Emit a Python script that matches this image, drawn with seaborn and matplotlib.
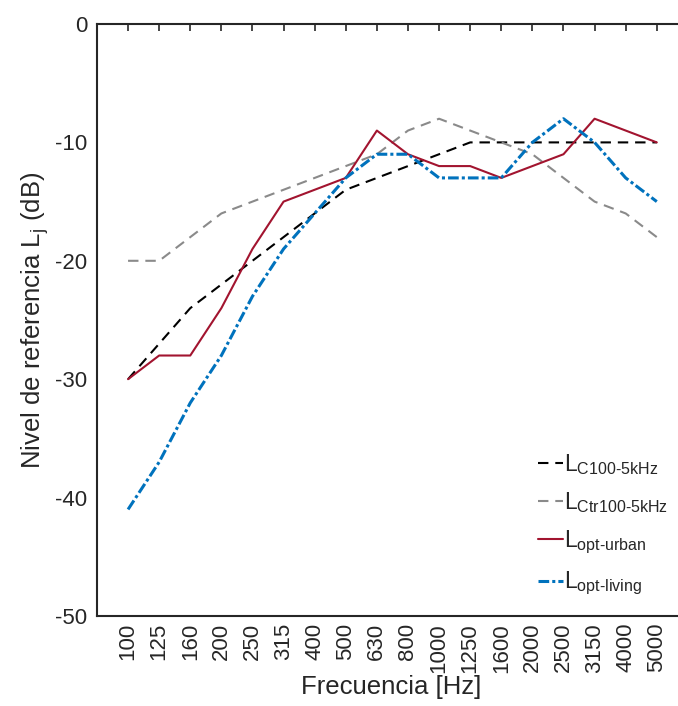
"""Reference spectra Lj vs frequency (ISO 717-1 style)
"""
import matplotlib
matplotlib.use("Agg")
import matplotlib.pyplot as plt
import numpy as np
import pandas as pd
import seaborn as sns


# Data

freqs = ["100", "125", "160", "200", "250", "315", "400", "500", "630", "800",
         "1000", "1250", "1600", "2000", "2500", "3150", "4000", "5000"]
l_c = [-30, -27, -24, -22, -20, -18, -16, -14, -13, -12, -11, -10, -10, -10, -10, -10, -10, -10]
l_ctr = [-20, -20, -18, -16, -15, -14, -13, -12, -11, -9, -8, -9, -10, -11, -13, -15, -16, -18]
l_urban = [-30, -28, -28, -24, -19, -15, -14, -13, -9, -11, -12, -12, -13, -12, -11, -8, -9, -10]
l_living = [-41, -37, -32, -28, -23, -19, -16, -13, -11, -11, -13, -13, -13, -10, -8, -10, -13, -15]

HY = "\u2010"
labels = [
    r"L$_{\mathregular{C100" + HY + r"5kHz}}$",
    r"L$_{\mathregular{Ctr100" + HY + r"5kHz}}$",
    r"L$_{\mathregular{opt" + HY + r"urban}}$",
    r"L$_{\mathregular{opt" + HY + r"living}}$",
]

sns.set_style("white")
plt.rcParams["font.family"] = ["Liberation Sans", "DejaVu Sans"]
plt.rcParams["mathtext.fontset"] = "custom"
plt.rcParams["mathtext.rm"] = "Liberation Sans"
plt.rcParams["mathtext.it"] = "Liberation Sans"

TXT = "#262626"
idx = np.arange(len(freqs))
df = pd.DataFrame({"idx": idx, "c": l_c, "ctr": l_ctr, "urban": l_urban, "living": l_living})

fig = plt.figure(figsize=(6.78, 7.06), dpi=100)
# right spine sits just past the canvas edge, like the cropped original
ax = fig.add_axes([0.143, 0.1275, 0.867, 0.8385])

styles = [
    ("c", "black", (0, (5, 3.3)), 1.5),
    ("ctr", "#8a8a8a", (0, (5, 3.3)), 1.5),
    ("urban", "#A2142F", "-", 1.5),
    ("living", "#0072BD", (0, (3.5, 1, 1, 1)), 2.2),
]
for (col, color, ls, lw), lab in zip(styles, labels):
    sns.lineplot(data=df, x="idx", y=col, color=color, linestyle=ls,
                 linewidth=lw, label=lab, ax=ax)

ax.set_xlim(-1, 17.9)
ax.set_ylim(-50, 0)
ax.set_xticks(idx)
ax.set_xticklabels(freqs, rotation=90, fontsize=16, color=TXT)
ax.set_yticks([0, -10, -20, -30, -40, -50])
ax.set_yticklabels(["0", "-10", "-20", "-30", "-40", "-50"], fontsize=16, color=TXT)
ax.tick_params(axis="both", direction="in", length=5, width=1.2, colors=TXT,
               labelcolor=TXT, top=True, right=True)
ax.tick_params(axis="x", pad=5)
ax.tick_params(axis="y", pad=7)
ax.set_xlabel("Frecuencia [Hz]", fontsize=18.5, color=TXT, labelpad=2)
ax.set_ylabel(r"Nivel de referencia L$_{\mathregular{j}}$ (dB)", fontsize=18.5,
              color=TXT, labelpad=3)

for side in ["top", "right", "left", "bottom"]:
    ax.spines[side].set_visible(True)
    ax.spines[side].set_linewidth(1.5)
    ax.spines[side].set_color(TXT)

leg = ax.legend(loc="lower right", bbox_to_anchor=(0.995, 0.008), frameon=False,
                fontsize=16.5, handlelength=1.1, handletextpad=0.05, labelspacing=0.6,
                borderaxespad=0.2)
for t in leg.get_texts():
    t.set_color(TXT)

fig.savefig("out.png", dpi=100)
